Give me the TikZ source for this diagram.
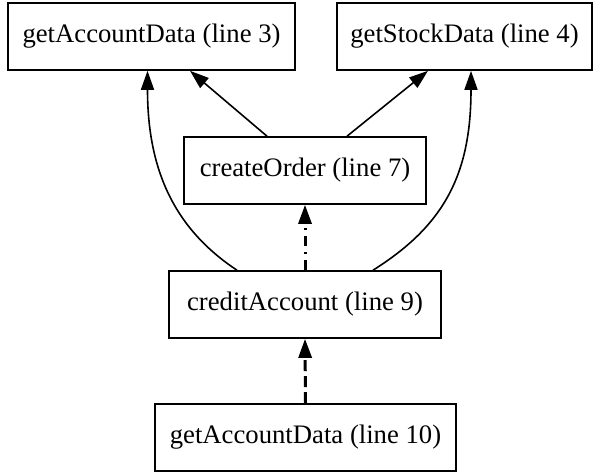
\documentclass[tikz,border=0pt]{standalone}
\usepackage{fontspec}
\setmainfont{Liberation Serif}
\usetikzlibrary{arrows.meta}
\tikzset{
  fnbox/.style={draw, line width=1.6pt, rectangle, inner sep=0pt, minimum height=67pt,
    font=\fontsize{26.7}{32}\selectfont},
  callarrow/.style={line width=1.6pt, -{Triangle[length=19pt,width=13pt]}},
  dashedarrow/.style={callarrow, line width=3pt, dash pattern=on 11pt off 5pt},
  dashdotarrow/.style={callarrow, line width=3pt, dash pattern=on 10.5pt off 5.5pt on 2.5pt off 5.5pt},
}
\begin{document}
\begin{tikzpicture}[x=1pt, y=-1pt]
\useasboundingbox (0,0) rectangle (594,471);
\node[fnbox, minimum width=287pt] (a3) at (151.5,36.5) {getAccountData (line 3)};
\node[fnbox, minimum width=255pt] (s4) at (464.5,36.5) {getStockData (line 4)};
\node[fnbox, minimum width=242pt] (co) at (305,170.5) {createOrder (line 7)};
\node[fnbox, minimum width=272pt] (ca) at (305,304.5) {creditAccount (line 9)};
\node[fnbox, minimum width=301pt] (a10) at (305.5,437.5) {getAccountData (line 10)};

\draw[callarrow] ([xshift=-38pt]co.north) -- ([xshift=38.5pt]a3.south);
\draw[callarrow] ([xshift=42pt]co.north) -- ([xshift=-36.5pt]s4.south);
\draw[callarrow] ([xshift=-68pt]ca.north) .. controls +(-62,-41) and +(0,100) .. ([xshift=-4pt]a3.south);
\draw[callarrow] ([xshift=68pt]ca.north) .. controls +(70,-44) and +(0,105) .. ([xshift=6.5pt]s4.south);
\draw[dashdotarrow] (ca.north) -- (co.south);
\draw[dashedarrow] (a10.north) -- (ca.south);
\end{tikzpicture}
\end{document}
